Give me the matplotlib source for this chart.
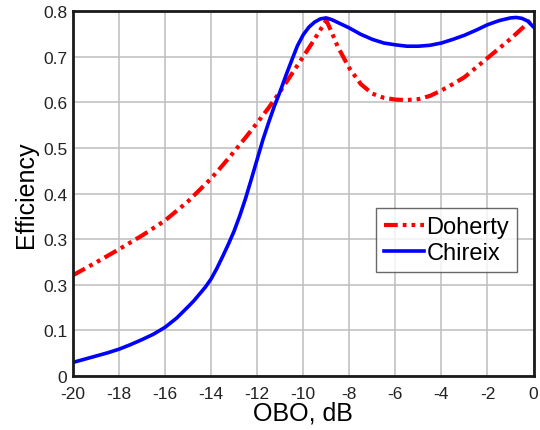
import matplotlib.pyplot as plt

plt.rcParams['font.family'] = ['Liberation Sans', 'DejaVu Sans']
plt.rcParams['axes.unicode_minus'] = False

# Doherty efficiency vs output back-off
obo_doherty = [-20, -19, -18, -17, -16, -15, -14, -13.5, -13, -12.5, -12, -11.5, -11,
               -10.5, -10, -9.5, -9.0, -8.75, -8.5, -8.0, -7.5, -7.0, -6.5, -6.0,
               -5.5, -5.0, -4.5, -4.0, -3.5, -3.0, -2.5, -2.0, -1.5, -1.0, -0.5, 0]
eff_doherty = [0.221, 0.249, 0.278, 0.308, 0.341, 0.383, 0.433, 0.462, 0.492, 0.523,
               0.555, 0.588, 0.624, 0.662, 0.700, 0.739, 0.780, 0.752, 0.722, 0.675,
               0.640, 0.619, 0.610, 0.606, 0.605, 0.607, 0.614, 0.626, 0.640, 0.655,
               0.676, 0.697, 0.718, 0.739, 0.762, 0.786]

# Chireix efficiency vs output back-off
obo_chireix = [-20, -19.5, -19, -18.5, -18, -17.5, -17, -16.5, -16, -15.5, -15, -14.75,
               -14.5, -14.25, -14, -13.75, -13.5, -13.25, -13, -12.75, -12.5, -12.25,
               -12, -11.75, -11.5, -11.25, -11, -10.75, -10.5, -10.25, -10, -9.75,
               -9.5, -9.25, -9.0, -8.75, -8.5, -8, -7.5, -7, -6.5, -6, -5.5, -5, -4.5,
               -4, -3.5, -3, -2.5, -2, -1.5, -1, -0.75, -0.5, -0.25, 0]
eff_chireix = [0.030, 0.037, 0.044, 0.051, 0.059, 0.069, 0.080, 0.092, 0.107, 0.127,
               0.152, 0.165, 0.180, 0.195, 0.213, 0.236, 0.262, 0.289, 0.318, 0.352,
               0.390, 0.432, 0.475, 0.518, 0.556, 0.592, 0.624, 0.659, 0.692, 0.724,
               0.748, 0.765, 0.776, 0.783, 0.785, 0.781, 0.775, 0.763, 0.749, 0.738,
               0.730, 0.726, 0.723, 0.723, 0.725, 0.730, 0.738, 0.747, 0.758, 0.770,
               0.779, 0.785, 0.786, 0.784, 0.778, 0.765]

xticks = list(range(-20, 1, 2))
yticks = [0, 0.1, 0.2, 0.3, 0.4, 0.5, 0.6, 0.7, 0.8]
ytick_labels = ['0', '0.1', '0.3', '0.3', '0.4', '0.5', '0.6', '0.7', '0.8']

fig = plt.figure(figsize=(5.4, 4.31), dpi=100)
ax = fig.add_axes([0.135, 0.125, 0.853, 0.847])

ax.plot(obo_doherty, eff_doherty, color='#ff0000', lw=3,
        dashes=(3.3, 1.2, 0.9, 1.2, 0.9, 1.2), label='Doherty')
ax.plot(obo_chireix, eff_chireix, color='#0000ff', lw=2.6, label='Chireix')

ax.set_xlim(-20, 0)
ax.set_ylim(0, 0.8)
ax.set_xticks(xticks)
ax.set_yticks(yticks)
ax.set_yticklabels(ytick_labels)
ax.tick_params(length=0, labelsize=12.5, colors='#222222')
ax.tick_params(axis='x', pad=7)
ax.tick_params(axis='y', pad=4)
ax.grid(True, color='#bdbdbd', lw=1.1)
ax.set_axisbelow(True)
for s in ax.spines.values():
    s.set_linewidth(2)
    s.set_color('#1a1a1a')

ax.set_xlabel('OBO, dB', fontsize=18, labelpad=0)
ax.set_ylabel('Efficiency', fontsize=18, labelpad=4)

leg = ax.legend(loc='lower right', bbox_to_anchor=(0.965, 0.285), fontsize=17,
                frameon=True, fancybox=False, handlelength=1.7, handletextpad=0.08,
                borderpad=0.35, labelspacing=0.15, borderaxespad=0)
leg.get_frame().set_edgecolor('#444444')
leg.get_frame().set_linewidth(1)

fig.savefig('out.png')
